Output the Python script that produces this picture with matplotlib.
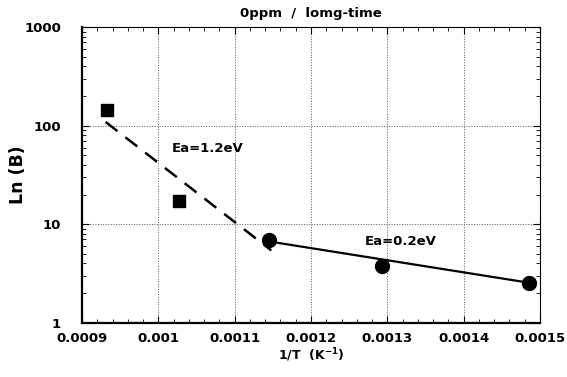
import numpy as np
import matplotlib.pyplot as plt
from matplotlib.ticker import FixedLocator, MultipleLocator, LogLocator, NullFormatter

plt.rcParams['font.family'] = ['DejaVu Sans']
plt.rcParams['font.weight'] = 'bold'
plt.rcParams['mathtext.default'] = 'bf'

# measured points
sq_x = [0.000933, 0.001027]
sq_y = [144, 17.1]
ci_x = [0.001145, 0.001293, 0.001485]
ci_y = [6.86, 3.80, 2.55]

# fit lines
fit1_x = [0.000931, 0.001148]
fit1_y = [109, 5.42]
fit2_x = [0.001144, 0.001485]
fit2_y = [6.7, 2.55]

xticks = [0.0009, 0.001, 0.0011, 0.0012, 0.0013, 0.0014, 0.0015]
xtick_labels = ['0.0009', '0.001', '0.0011', '0.0012', '0.0013', '0.0014', '0.0015']
yticks = [1, 10, 100, 1000]
ytick_labels = ['1', '10', '100', '1000']

fig = plt.figure(figsize=(5.67, 3.77), dpi=100)
ax = fig.add_axes([0.1446, 0.144, 0.8077, 0.784])

ax.set_yscale('log')
ax.set_xlim(0.0009, 0.0015)
ax.set_ylim(1, 1000)

ax.plot(fit1_x, fit1_y, color='black', lw=1.8, linestyle=(0, (6, 4)))
ax.plot(fit2_x, fit2_y, color='black', lw=1.6)
ax.plot(sq_x, sq_y, 's', color='black', ms=8)
ax.plot(ci_x, ci_y, 'o', color='black', ms=10)

ax.text(0.001018, 58, 'Ea=1.2eV', fontsize=9.5, fontweight='bold', va='center')
ax.text(0.001271, 6.7, 'Ea=0.2eV', fontsize=9.5, fontweight='bold', va='center')

ax.xaxis.set_major_locator(FixedLocator(xticks))
ax.set_xticklabels(xtick_labels)
ax.xaxis.set_minor_locator(MultipleLocator(0.00002))
ax.yaxis.set_major_locator(FixedLocator(yticks))
ax.set_yticklabels(ytick_labels)
ax.yaxis.set_minor_locator(LogLocator(base=10, subs=np.arange(2, 10)))
ax.yaxis.set_minor_formatter(NullFormatter())

ax.tick_params(which='both', direction='in', top=True, right=True, labelsize=9.5)
ax.tick_params(which='major', length=5, width=0.8)
ax.tick_params(which='minor', length=3, width=0.6)
ax.tick_params(axis='x', pad=7)
ax.tick_params(axis='y', pad=15)
for lab in ax.get_xticklabels() + ax.get_yticklabels():
    lab.set_fontweight('bold')

ax.grid(True, which='major', color='#555555', linestyle=':', linewidth=0.7)

ax.spines['left'].set_linewidth(1.6)
ax.spines['bottom'].set_linewidth(1.6)
ax.spines['top'].set_linewidth(0.8)
ax.spines['right'].set_linewidth(0.8)

ax.set_title('0ppm  /  lomg-time', fontsize=9.5, fontweight='bold', pad=7)
ax.set_xlabel('1/T  (K$^{-1}$)', fontsize=9, fontweight='bold', labelpad=1)
ax.set_ylabel('Ln (B)', fontsize=12.5, fontweight='bold', va='center')
ax.yaxis.set_label_coords(-0.14, 0.5)

plt.savefig('out.png', dpi=100)
